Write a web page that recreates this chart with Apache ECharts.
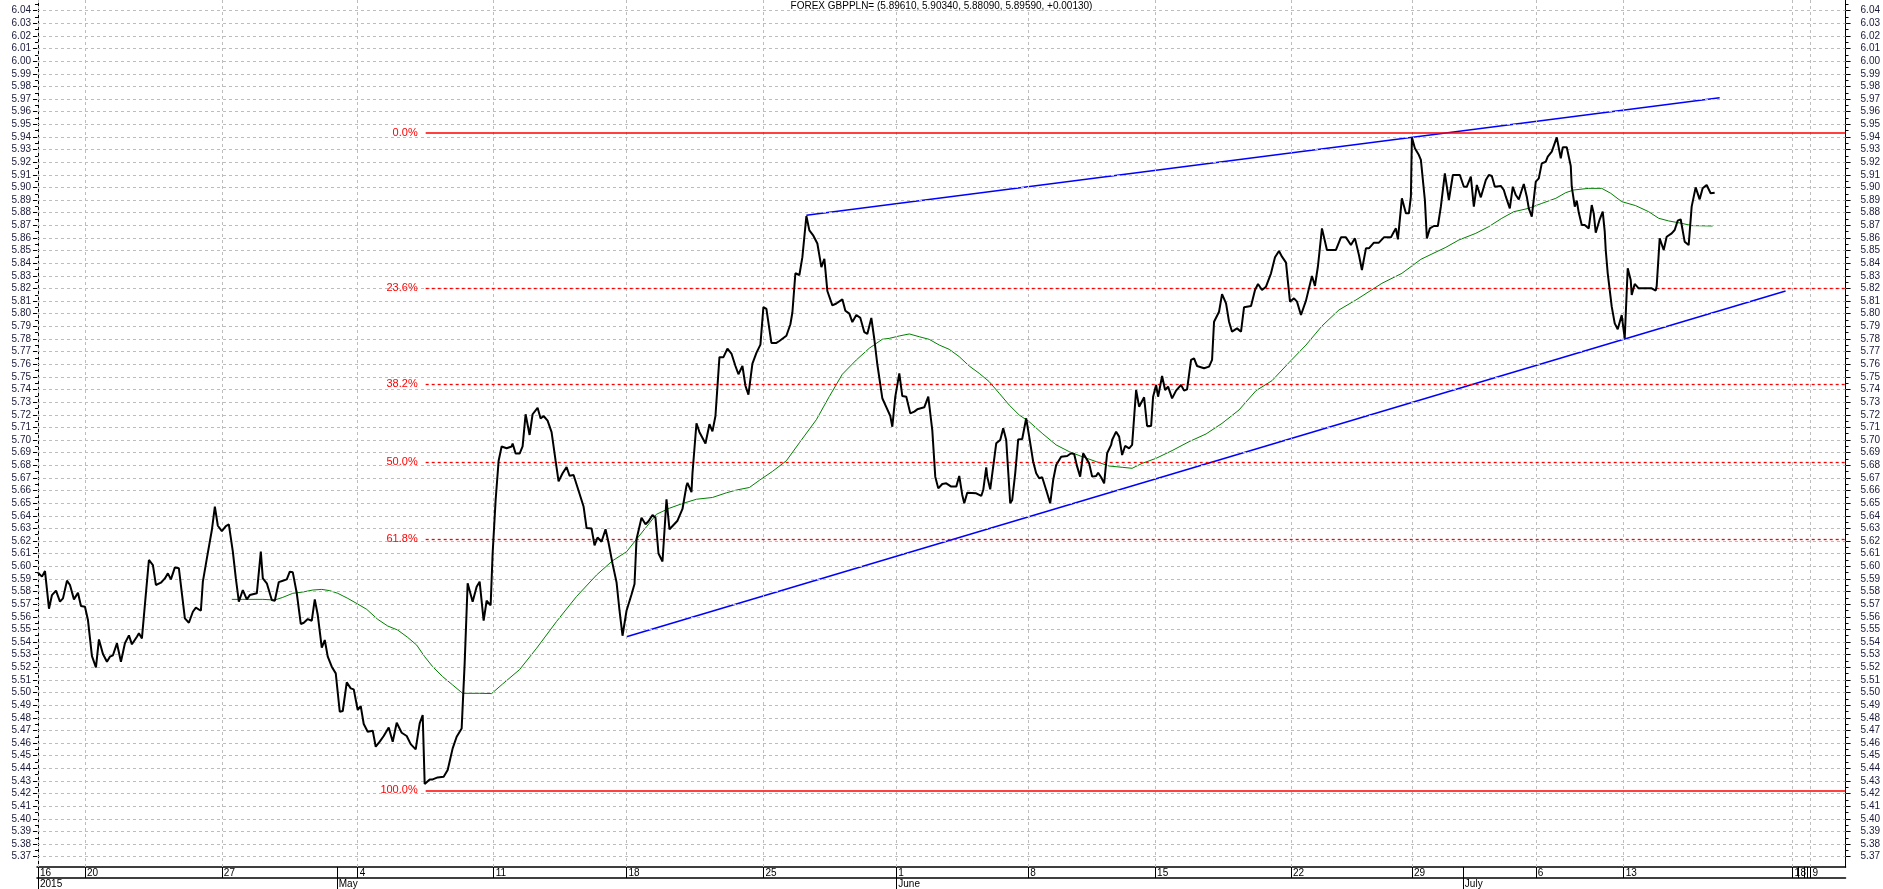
<!DOCTYPE html>
<html>
<head>
<meta charset="utf-8">
<title>FOREX GBPPLN=</title>
<script src="https://cdn.jsdelivr.net/npm/echarts@6/dist/echarts.min.js"></script>
<style>
html, body { margin: 0; padding: 0; background: #fff; }
#main { width: 1883px; height: 889px; }
</style>
</head>
<body>
<div id="main"></div>
<script>
// bar number of each close and the close itself
var priceBar = [0,4,7,11,14,18,22,25,29,32,36,40,43,47,50,54,58,61,65,69,72,75,79,83,87,91,94,99,101,104,108,111,115,118,123,127,130,133,137,141,144,147,151,155,158,163,165,169,174,177,180,184,188,191,195,198,201,205,209,212,216,219,223,225,229,234,237,241,245,249,252,255,259,263,266,270,274,277,280,284,287,290,294,298,302,305,309,313,316,320,323,326,330,335,338,342,346,351,355,359,364,369,373,378,382,385,387,392,395,400,406,410,415,419,424,427,430,435,439,442,446,449,453,455,458,461,464,469,474,475,478,482,485,488,492,495,500,503,506,510,514,518,521,525,529,532,536,540,546,549,554,557,560,564,568,571,575,579,582,585,589,594,597,599,604,608,611,615,618,621,625,629,632,636,640,645,649,650,654,655,659,662,668,672,675,678,682,686,690,694,698,701,705,708,711,715,719,723,726,729,734,739,742,749,753,755,758,762,765,769,772,776,780,784,787,790,795,799,805,808,812,815,819,823,827,830,834,837,840,845,849,853,855,858,862,865,869,873,877,880,887,891,895,898,901,905,909,914,919,922,925,927,930,939,944,946,949,950,953,955,959,963,966,969,973,975,978,981,985,989,992,996,999,1002,1005,1009,1013,1016,1019,1024,1030,1034,1037,1040,1043,1046,1049,1052,1055,1059,1061,1064,1067,1070,1074,1075,1079,1082,1085,1088,1092,1095,1099,1102,1107,1110,1114,1116,1119,1121,1125,1128,1131,1135,1139,1144,1147,1150,1154,1157,1160,1167,1172,1175,1177,1182,1185,1189,1192,1195,1200,1204,1207,1214,1218,1221,1225,1229,1234,1238,1242,1245,1249,1253,1257,1260,1264,1269,1271,1275,1278,1281,1285,1290,1299,1304,1309,1314,1318,1322,1325,1329,1332,1337,1342,1347,1354,1357,1359,1361,1365,1369,1372,1374,1375,1378,1382,1384,1388,1390,1393,1397,1401,1404,1408,1412,1416,1423,1427,1430,1434,1437,1440,1444,1449,1452,1455,1458,1464,1467,1469,1473,1476,1479,1482,1485,1487,1490,1492,1495,1499,1502,1505,1509,1511,1515,1520,1524,1526,1530,1534,1535,1538,1540,1542,1545,1548,1552,1555,1557,1559,1563,1566,1568,1569,1571,1575,1578,1581,1585,1588,1591,1594,1595,1598,1602,1615,1619,1620,1623,1627,1630,1635,1638,1641,1644,1648,1652,1655,1659,1663,1666,1670,1674,1678];
var priceClose = [5.5949,5.5918,5.5962,5.5664,5.5772,5.5807,5.5720,5.5746,5.5886,5.5852,5.5738,5.5791,5.5685,5.5680,5.5574,5.5289,5.5199,5.5421,5.5305,5.5244,5.5284,5.5295,5.5390,5.5244,5.5390,5.5453,5.5382,5.5442,5.5469,5.5429,5.5786,5.6050,5.6010,5.5852,5.5870,5.5904,5.5944,5.5896,5.5991,5.5984,5.5786,5.5588,5.5553,5.5640,5.5672,5.5648,5.5878,5.6063,5.6287,5.6472,5.6321,5.6279,5.6319,5.6332,5.6116,5.5904,5.5720,5.5812,5.5738,5.5772,5.5780,5.5786,5.6116,5.5904,5.5865,5.5733,5.5727,5.5875,5.5886,5.5896,5.5957,5.5952,5.5786,5.5543,5.5553,5.5582,5.5569,5.5738,5.5614,5.5355,5.5416,5.5284,5.5205,5.5152,5.4848,5.4854,5.5081,5.5033,5.5025,5.4862,5.4893,5.4751,5.4690,5.4698,5.4571,5.4611,5.4656,5.4724,5.4611,5.4761,5.4682,5.4656,5.4592,5.4550,5.4756,5.4822,5.4276,5.4312,5.4312,5.4328,5.4334,5.4386,5.4558,5.4650,5.4716,5.5231,5.5865,5.5720,5.5838,5.5878,5.5569,5.5727,5.5691,5.6101,5.6525,5.6836,5.6949,5.6935,5.6949,5.6972,5.6893,5.6893,5.6949,5.7204,5.7040,5.7204,5.7255,5.7170,5.7190,5.7153,5.7062,5.6836,5.6672,5.6737,5.6785,5.6717,5.6723,5.6624,5.6474,5.6304,5.6299,5.6166,5.6228,5.6194,5.6293,5.6186,5.6021,5.5874,5.5648,5.5450,5.5648,5.5776,5.5860,5.6214,5.6384,5.6333,5.6356,5.6406,5.6384,5.6101,5.6038,5.6531,5.6293,5.6327,5.6361,5.6454,5.6638,5.6661,5.6587,5.6737,5.7133,5.7062,5.6972,5.7125,5.7068,5.7190,5.7656,5.7656,5.7724,5.7685,5.7586,5.7521,5.7586,5.7430,5.7359,5.7605,5.7690,5.7755,5.8052,5.8038,5.7769,5.7769,5.7784,5.7826,5.7917,5.8010,5.8321,5.8307,5.8448,5.8774,5.8660,5.8618,5.8556,5.8369,5.8434,5.8180,5.8066,5.8081,5.8114,5.8024,5.8001,5.7934,5.7990,5.7967,5.7854,5.7840,5.7967,5.7798,5.7600,5.7331,5.7260,5.7190,5.7105,5.7343,5.7528,5.7348,5.7343,5.7211,5.7225,5.7243,5.7259,5.7343,5.7079,5.6710,5.6617,5.6652,5.6657,5.6631,5.6631,5.6715,5.6565,5.6499,5.6583,5.6578,5.6557,5.6604,5.6784,5.6710,5.6609,5.6617,5.6974,5.7000,5.7093,5.7000,5.6499,5.6525,5.6736,5.7005,5.7008,5.7172,5.7027,5.6828,5.6736,5.6697,5.6705,5.6604,5.6499,5.6683,5.6802,5.6868,5.6873,5.6895,5.6889,5.6789,5.6710,5.6895,5.6855,5.6815,5.6710,5.6715,5.6741,5.6705,5.6657,5.6895,5.6961,5.7000,5.7066,5.7027,5.6881,5.6953,5.6934,5.6961,5.7396,5.7264,5.7338,5.7111,5.7111,5.7343,5.7436,5.7343,5.7507,5.7396,5.7423,5.7330,5.7391,5.7436,5.7391,5.7401,5.7634,5.7647,5.7586,5.7568,5.7581,5.7634,5.7937,5.8016,5.8156,5.8082,5.7937,5.7858,5.7884,5.7858,5.8051,5.8061,5.8188,5.8236,5.8188,5.8214,5.8320,5.8447,5.8497,5.8452,5.8405,5.8096,5.8122,5.8096,5.7990,5.8104,5.8109,5.8299,5.8220,5.8378,5.8676,5.8505,5.8505,5.8605,5.8605,5.8544,5.8597,5.8465,5.8346,5.8518,5.8518,5.8563,5.8563,5.8605,5.8605,5.8650,5.8676,5.8589,5.8914,5.8795,5.8795,5.8927,5.9397,5.9310,5.9257,5.9218,5.8901,5.8597,5.8676,5.8695,5.8695,5.8848,5.9112,5.8901,5.9099,5.9099,5.9006,5.9006,5.9086,5.8848,5.9020,5.8922,5.9059,5.9099,5.9091,5.9006,5.9012,5.8980,5.8927,5.8835,5.9006,5.8940,5.8906,5.8980,5.9028,5.8927,5.8835,5.8769,5.9046,5.9072,5.9191,5.9204,5.9244,5.9284,5.9397,5.9231,5.9318,5.9318,5.9170,5.9006,5.8848,5.8896,5.8801,5.8703,5.8703,5.8676,5.8861,5.8795,5.8642,5.8748,5.8808,5.8650,5.8505,5.8320,5.8056,5.7924,5.7877,5.7990,5.7805,5.8360,5.8267,5.8149,5.8236,5.8201,5.8201,5.8183,5.8220,5.8597,5.8505,5.8610,5.8637,5.8663,5.8737,5.8748,5.8571,5.8544,5.8848,5.9001,5.8906,5.8993,5.9020,5.8954,5.8959];

// smoothed average (green)
var maBar = [194,205,225,237,245,255,265,275,284,292,300,310,320,329,340,350,360,370,379,387,395,405,415,425,442,454,465,482,499,519,539,559,575,589,599,609,619,632,645,659,675,689,699,712,722,735,749,762,779,792,805,819,832,845,852,862,872,882,892,902,912,922,932,942,952,962,972,982,992,1005,1019,1032,1045,1059,1072,1085,1095,1105,1119,1135,1152,1169,1185,1202,1219,1235,1252,1269,1285,1302,1319,1332,1345,1365,1384,1395,1409,1422,1439,1452,1465,1477,1492,1505,1519,1529,1537,1552,1565,1574,1585,1599,1612,1622,1632,1645,1655,1676];
var maValue = [5.5738,5.5738,5.5738,5.5733,5.5754,5.5786,5.5796,5.5812,5.5817,5.5807,5.5786,5.5746,5.5701,5.5659,5.5580,5.5527,5.5495,5.5437,5.5376,5.5284,5.5205,5.5126,5.5060,5.4994,5.4994,5.4992,5.5068,5.5182,5.5351,5.5563,5.5761,5.5931,5.6044,5.6115,5.6214,5.6313,5.6412,5.6460,5.6497,5.6531,5.6545,5.6582,5.6604,5.6624,5.6681,5.6751,5.6836,5.6978,5.7161,5.7345,5.7521,5.7634,5.7727,5.7798,5.7805,5.7824,5.7840,5.7818,5.7797,5.7752,5.7718,5.7660,5.7586,5.7528,5.7462,5.7370,5.7277,5.7198,5.7145,5.7053,5.6961,5.6908,5.6868,5.6829,5.6794,5.6784,5.6776,5.6815,5.6855,5.6916,5.6987,5.7048,5.7132,5.7238,5.7391,5.7470,5.7613,5.7752,5.7903,5.8030,5.8109,5.8175,5.8241,5.8320,5.8431,5.8473,5.8526,5.8584,5.8637,5.8690,5.8756,5.8808,5.8835,5.8874,5.8914,5.8959,5.8980,5.8993,5.8993,5.8954,5.8888,5.8856,5.8808,5.8756,5.8735,5.8716,5.8698,5.8695];

// date axis: week starts (with dashed grid), future day cells, month starts
var weekBars = [0,47,184,320,456,589,726,859,991,1118,1254,1375,1499,1587,1756,1774];
var weekLabels = ['16','20','27','4','11','18','25','1','8','15','22','29','6','13','1','9'];
var dayBars = [1762,1768,1771];
var dayLabels = ['8','',''];
var monthBars = [0,299,859,1426];
var monthLabels = ['2015','May','June','July'];

// fibonacci retracement
var fibHigh = 5.9430;
var fibLow = 5.4225;
var fibStartBar = 388;
var fibRatios = [0, 0.236, 0.382, 0.5, 0.618, 1];
var fibLabels = ['0.0%','23.6%','38.2%','50.0%','61.8%','100.0%'];

// trend channel
var upperTrend = [[769, 5.8780], [1683, 5.9711]];
var lowerTrend = [[589, 5.5442], [1749, 5.8180]];

var yTicks = [];
var yMinor = [];
for (var i = 537; i <= 604; i++) {
    yTicks.push(i / 100);
    yMinor.push((i + 0.5) / 100);
}

var FONT = 'Liberation Sans';
var yMin = 5.36185, yMax = 6.04847, xMin = -1, xMax = 1809;

function zip(a, b) {
    var out = [];
    for (var i = 0; i < a.length; i++) out.push([a[i], b[i]]);
    return out;
}
function lookup(keys, vals) {
    return function (v) {
        var i = keys.indexOf(Math.round(v));
        return i < 0 ? '' : vals[i];
    };
}

var dayCells = weekBars.concat(dayBars);
var dayCellLabels = weekLabels.concat(dayLabels);

var gridLines = yTicks.map(function (v) { return { yAxis: v }; })
    .concat(weekBars.map(function (b) { return { xAxis: b }; }));

var fibLines = fibRatios.map(function (r, i) {
    var v = fibHigh - r * (fibHigh - fibLow);
    var solid = (r === 0 || r === 1);
    return [
        { coord: [fibStartBar, v], name: fibLabels[i],
          lineStyle: { color: '#ff0000', width: solid ? 1.5 : 1.3, type: solid ? 'solid' : [3, 3] } },
        { coord: [xMax, v] }
    ];
});

function yAxisDef(pos, ticks, len, labels) {
    return {
        type: 'value', position: pos, min: yMin, max: yMax,
        axisLine: { show: true, lineStyle: { color: '#000', width: 1 } },
        axisTick: { show: true, customValues: ticks, length: len, lineStyle: { color: '#000' } },
        axisLabel: {
            show: labels, customValues: yTicks, margin: pos === 'left' ? 6 : 15,
            fontFamily: FONT, fontSize: 10, color: '#1a1a3a',
            formatter: function (v) { return v.toFixed(2); }
        },
        splitLine: { show: false }
    };
}

var myChart = echarts.init(document.getElementById('main'), null, { renderer: 'canvas' });

var option = {
    backgroundColor: '#fff',
    animation: false,
    title: {
        text: 'FOREX GBPPLN= (5.89610, 5.90340, 5.88090, 5.89590, +0.00130)',
        left: 'center', top: 0, padding: [1, 0, 0, 0],
        textStyle: { fontFamily: FONT, fontSize: 10, fontWeight: 'normal', color: '#000' }
    },
    grid: { left: 37, right: 36, top: 0, bottom: 22 },
    xAxis: [
        {
            type: 'value', min: xMin, max: xMax, position: 'bottom',
            axisLine: { show: true, lineStyle: { color: '#000', width: 1.5 } },
            axisTick: { show: true, customValues: dayCells.concat([299, 1426]), length: 11, lineStyle: { color: '#000' } },
            axisLabel: {
                customValues: dayCells, formatter: lookup(dayCells, dayCellLabels),
                align: 'left', margin: 1, padding: [0, 0, 0, 2], hideOverlap: false,
                fontFamily: FONT, fontSize: 10, color: '#000'
            },
            splitLine: { show: false }
        },
        {
            type: 'value', min: xMin, max: xMax, position: 'bottom', offset: 11,
            axisLine: { show: true, lineStyle: { color: '#000', width: 1.5 } },
            axisTick: { show: true, customValues: monthBars, length: 11, lineStyle: { color: '#000' } },
            axisLabel: {
                customValues: monthBars, formatter: lookup(monthBars, monthLabels),
                align: 'left', margin: 1, padding: [0, 0, 0, 2], hideOverlap: false,
                fontFamily: FONT, fontSize: 10, color: '#000'
            },
            splitLine: { show: false }
        }
    ],
    yAxis: [
        yAxisDef('left', yTicks, 5, true),
        yAxisDef('left', yMinor, 3, false),
        yAxisDef('right', yTicks, 5, true),
        yAxisDef('right', yMinor, 3, false)
    ],
    series: [
        {
            name: 'grid', type: 'line', data: [], z: 1, silent: true,
            markLine: {
                silent: true, symbol: 'none', animation: false,
                label: { show: false },
                lineStyle: { color: '#bdbdbd', width: 1, type: [3, 3] },
                data: gridLines
            }
        },
        {
            name: 'fib', type: 'line', data: [], z: 2, silent: true,
            markLine: {
                silent: true, symbol: 'none', animation: false,
                label: {
                    show: true, position: 'start', distance: 8,
                    fontFamily: FONT, fontSize: 11, color: '#ff0000',
                    formatter: function (p) { return p.name; }
                },
                data: fibLines
            }
        },
        {
            name: 'upper', type: 'line', data: upperTrend, z: 3, symbol: 'none',
            lineStyle: { color: '#0000ff', width: 1.5 }
        },
        {
            name: 'lower', type: 'line', data: lowerTrend, z: 3, symbol: 'none',
            lineStyle: { color: '#0000ff', width: 1.5 }
        },
        {
            name: 'average', type: 'line', data: zip(maBar, maValue), z: 4, symbol: 'none',
            lineStyle: { color: '#008000', width: 1 }
        },
        {
            name: 'GBPPLN', type: 'line', data: zip(priceBar, priceClose), z: 5, symbol: 'none',
            lineStyle: { color: '#000', width: 2 }
        }
    ]
};

myChart.setOption(option);
</script>
</body>
</html>
